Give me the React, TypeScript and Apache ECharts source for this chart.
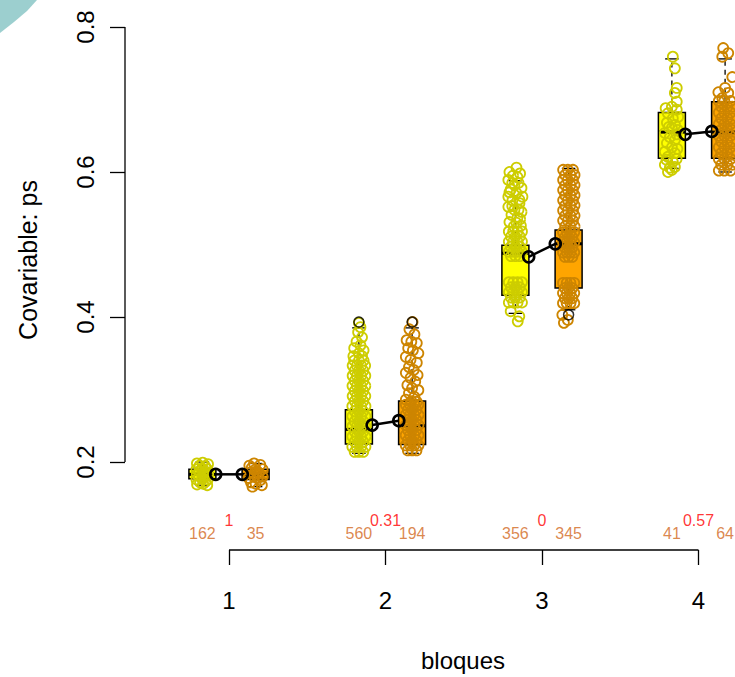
import React, { useEffect, useRef } from "react";
import * as echarts from "echarts";

// ---------- data ----------
const groups = [1, 2, 3, 4];
const pValues = ["1", "0.31", "0", "0.57"];
const countsYellow = [162, 560, 356, 41];
const countsOrange = [35, 194, 345, 64];
const meansYellow = [0.183, 0.251, 0.483, 0.652];
const meansOrange = [0.183, 0.257, 0.501, 0.656];
// [min, q1, median, q3, max]
const boxYellow = [
  [0.168, 0.177, 0.183, 0.19, 0.2],
  [0.212, 0.225, 0.245, 0.272, 0.385],
  [0.405, 0.43, 0.488, 0.499, 0.588],
  [0.605, 0.619, 0.655, 0.682, 0.756],
];
const boxOrange = [
  [0.166, 0.176, 0.183, 0.19, 0.198],
  [0.212, 0.224, 0.25, 0.284, 0.385],
  [0.41, 0.44, 0.501, 0.52, 0.605],
  [0.6, 0.619, 0.655, 0.697, 0.756],
];
const outliersYellow = [[], [0.393], [], []];
const outliersOrange = [[], [0.393], [0.403], []];
const yTicks = [0.2, 0.4, 0.6, 0.8];

// jittered observations: [offset from box centre, value]
const ptsY1 = [
  [-0.035, 0.198], [0.002, 0.199], [0.036, 0.197], [-0.038, 0.19], [-0.004, 0.191], [0.032, 0.19],
  [-0.036, 0.183], [0.004, 0.184], [0.037, 0.183], [-0.038, 0.176], [0, 0.177], [0.034, 0.176],
  [-0.034, 0.169], [0.005, 0.17], [0.031, 0.168], [-0.018, 0.195], [0.018, 0.187], [-0.02, 0.18],
  [0.02, 0.173], [-0.015, 0.172], [0.018, 0.194], [-0.018, 0.187], [0.018, 0.18],
];
const ptsO1 = [
  [-0.04, 0.195], [-0.01, 0.198], [0.03, 0.196], [0.045, 0.19], [0, 0.19], [-0.03, 0.186],
  [0.02, 0.185], [0.045, 0.18], [-0.045, 0.178], [-0.01, 0.18], [0.03, 0.175], [-0.03, 0.172],
  [0, 0.17], [0.04, 0.168], [-0.02, 0.166], [0.015, 0.178], [0.01, 0.187], [-0.025, 0.192],
];
const ptsY2 = [
  [0, 0.392], [0.01, 0.386], [-0.005, 0.379], [0.02, 0.372], [-0.015, 0.366], [0.01, 0.361],
  [-0.03, 0.357], [0.03, 0.354], [0, 0.35], [-0.035, 0.346], [0.02, 0.346],
  [-0.03, 0.34], [0, 0.34], [0.03, 0.34],
  [-0.04, 0.333], [-0.013, 0.333], [0.014, 0.333], [0.04, 0.333],
  [-0.027, 0.326], [0, 0.326], [0.028, 0.326],
  [-0.04, 0.319], [-0.013, 0.319], [0.014, 0.319], [0.041, 0.319],
  [-0.027, 0.312], [0, 0.312], [0.028, 0.312],
  [-0.041, 0.305], [-0.013, 0.305], [0.014, 0.305], [0.041, 0.305],
  [-0.027, 0.298], [0, 0.298], [0.028, 0.298],
  [-0.04, 0.291], [-0.013, 0.291], [0.014, 0.291], [0.041, 0.291],
  [-0.027, 0.284], [0, 0.284], [0.028, 0.284],
  [-0.042, 0.277], [-0.014, 0.277], [0.014, 0.277], [0.042, 0.277],
  [-0.027, 0.27], [0, 0.27], [0.028, 0.27],
  [-0.042, 0.263], [-0.014, 0.263], [0.014, 0.263], [0.042, 0.263],
  [-0.027, 0.256], [0, 0.256], [0.028, 0.256],
  [-0.042, 0.249], [-0.014, 0.249], [0.014, 0.249], [0.042, 0.249],
  [-0.027, 0.242], [0, 0.242], [0.028, 0.242],
  [-0.042, 0.235], [-0.014, 0.235], [0.014, 0.235], [0.042, 0.235],
  [-0.027, 0.228], [0, 0.228], [0.028, 0.228],
  [-0.042, 0.221], [-0.014, 0.221], [0.014, 0.221], [0.042, 0.221],
  [-0.027, 0.214], [0, 0.214], [0.028, 0.214],
];
const ptsO2 = [
  [0.003, 0.393], [-0.017, 0.383], [0.015, 0.376], [-0.035, 0.368], [-0.005, 0.366], [0.03, 0.364],
  [-0.025, 0.357], [0.005, 0.354], [0.04, 0.35], [-0.04, 0.345], [-0.01, 0.341], [0.03, 0.337],
  [-0.02, 0.331], [0.01, 0.327], [-0.04, 0.323], [0.035, 0.32], [-0.01, 0.316], [0.02, 0.311],
  [-0.03, 0.306], [0, 0.302], [0.04, 0.299], [-0.02, 0.295], [0.015, 0.29], [-0.04, 0.286],
  [0.03, 0.283], [-0.005, 0.284],
  [-0.04, 0.279], [-0.013, 0.279], [0.014, 0.279], [0.04, 0.279],
  [-0.027, 0.272], [0, 0.272], [0.028, 0.272],
  [-0.041, 0.265], [-0.013, 0.265], [0.014, 0.265], [0.041, 0.265],
  [-0.027, 0.258], [0, 0.258], [0.028, 0.258],
  [-0.041, 0.251], [-0.013, 0.251], [0.014, 0.251], [0.041, 0.251],
  [-0.027, 0.244], [0, 0.244], [0.028, 0.244],
  [-0.041, 0.237], [-0.013, 0.237], [0.014, 0.237], [0.041, 0.237],
  [-0.027, 0.23], [0, 0.23], [0.028, 0.23],
  [-0.041, 0.223], [-0.013, 0.223], [0.014, 0.223], [0.041, 0.223],
  [-0.027, 0.216], [0, 0.216], [0.028, 0.216],
];
const ptsY3 = [
  [0.007, 0.606], [-0.038, 0.6], [0.013, 0.593], [-0.045, 0.589], [-0.006, 0.582], [0.039, 0.578],
  [-0.038, 0.572], [0.007, 0.571], [-0.045, 0.566], [0.045, 0.566], [-0.019, 0.561], [0.026, 0.557],
  [-0.045, 0.552], [-0.006, 0.548], [0.039, 0.545], [-0.025, 0.541], [0.013, 0.537], [-0.038, 0.531],
  [0.007, 0.53], [0.03, 0.598], [-0.02, 0.585], [0.025, 0.562], [-0.03, 0.576], [0.03, 0.535],
  [-0.015, 0.595], [0.02, 0.585], [-0.02, 0.553], [0.02, 0.548], [-0.01, 0.525], [0.035, 0.526],
  [-0.042, 0.518], [-0.014, 0.518], [0.014, 0.518], [0.042, 0.518],
  [-0.028, 0.511], [0, 0.511], [0.028, 0.511],
  [-0.042, 0.504], [-0.014, 0.504], [0.014, 0.504], [0.042, 0.504],
  [-0.028, 0.497], [0, 0.497], [0.028, 0.497],
  [-0.042, 0.49], [-0.014, 0.49], [0.014, 0.49], [0.042, 0.49],
  [-0.028, 0.484], [0, 0.484], [0.028, 0.484],
  [-0.042, 0.448], [-0.014, 0.448], [0.014, 0.448], [0.042, 0.448],
  [-0.028, 0.441], [0, 0.441], [0.028, 0.441],
  [-0.042, 0.434], [-0.014, 0.434], [0.014, 0.434], [0.042, 0.434],
  [-0.028, 0.427], [0, 0.427], [0.028, 0.427],
  [-0.042, 0.42], [-0.014, 0.42], [0.014, 0.42], [0.042, 0.42],
  [-0.03, 0.408], [0.025, 0.401], [0.015, 0.394],
];
const ptsO3 = [
  [-0.035, 0.603], [-0.005, 0.603], [0.028, 0.603],
  [-0.022, 0.596], [0.012, 0.596], [0.038, 0.596],
  [-0.035, 0.589], [-0.005, 0.589], [0.028, 0.589],
  [-0.022, 0.582], [0.012, 0.582], [0.038, 0.582],
  [-0.035, 0.575], [-0.005, 0.575], [0.028, 0.575],
  [-0.022, 0.568], [0.012, 0.568], [0.038, 0.568],
  [-0.035, 0.561], [-0.005, 0.561], [0.028, 0.561],
  [-0.022, 0.554], [0.012, 0.554], [0.038, 0.554],
  [-0.035, 0.547], [-0.005, 0.547], [0.028, 0.547],
  [-0.022, 0.54], [0.012, 0.54], [0.038, 0.54],
  [-0.035, 0.533], [-0.005, 0.533], [0.028, 0.533],
  [-0.022, 0.525], [0.012, 0.525], [0.038, 0.525],
  [-0.036, 0.517], [-0.012, 0.517], [0.012, 0.517], [0.036, 0.517],
  [-0.024, 0.51], [0, 0.51], [0.024, 0.51],
  [-0.036, 0.503], [-0.012, 0.503], [0.012, 0.503], [0.036, 0.503],
  [-0.024, 0.496], [0, 0.496], [0.024, 0.496],
  [-0.036, 0.489], [-0.012, 0.489], [0.012, 0.489], [0.036, 0.489],
  [-0.024, 0.483], [0, 0.483], [0.024, 0.483],
  [-0.036, 0.447], [-0.012, 0.447], [0.012, 0.447], [0.036, 0.447],
  [-0.024, 0.44], [0, 0.44], [0.024, 0.44],
  [-0.036, 0.433], [-0.012, 0.433], [0.012, 0.433], [0.036, 0.433],
  [-0.024, 0.426], [0, 0.426], [0.024, 0.426],
  [-0.036, 0.419], [-0.012, 0.419], [0.012, 0.419], [0.036, 0.419],
  [-0.04, 0.403], [-0.005, 0.396], [-0.03, 0.392],
];
const ptsY4 = [
  [0.006, 0.759], [0.019, 0.743], [0.031, 0.716], [0.019, 0.709], [0.031, 0.697], [0, 0.69],
  [0.031, 0.686], [-0.026, 0.681], [0.006, 0.674], [-0.032, 0.668], [0, 0.661], [0.038, 0.658],
  [-0.045, 0.654], [-0.013, 0.648], [0.019, 0.644], [-0.032, 0.64], [0, 0.634], [-0.045, 0.628],
  [0.019, 0.626], [-0.026, 0.621], [0.006, 0.614], [-0.045, 0.61], [-0.013, 0.606], [0.019, 0.607],
  [0.04, 0.676], [-0.04, 0.688], [0.035, 0.632], [-0.02, 0.662], [0.03, 0.652], [-0.035, 0.617],
  [0.03, 0.618], [0, 0.603], [-0.025, 0.6], [0.02, 0.665],
];
const ptsO4 = [
  [-0.012, 0.771], [0.02, 0.764], [-0.018, 0.759], [0.046, 0.731], [0, 0.716], [-0.043, 0.71],
  [0.02, 0.709], [-0.018, 0.702],
  [-0.04, 0.698], [-0.005, 0.698], [0.035, 0.698],
  [-0.025, 0.69], [0.015, 0.69], [0.045, 0.69],
  [-0.04, 0.682], [-0.005, 0.682], [0.035, 0.682],
  [-0.025, 0.674], [0.015, 0.674], [0.045, 0.674],
  [-0.04, 0.666], [-0.005, 0.666], [0.035, 0.666],
  [-0.025, 0.658], [0.015, 0.658], [0.045, 0.658],
  [-0.04, 0.65], [-0.005, 0.65], [0.035, 0.65],
  [-0.025, 0.642], [0.015, 0.642], [0.045, 0.642],
  [-0.04, 0.634], [-0.005, 0.634], [0.035, 0.634],
  [-0.025, 0.626], [0.015, 0.626], [0.045, 0.626],
  [-0.04, 0.618], [-0.005, 0.618], [0.035, 0.618],
  [-0.025, 0.61], [0.015, 0.61], [0.045, 0.61],
  [-0.04, 0.602], [-0.005, 0.602], [0.035, 0.602],
];
const pointsYellow = [ptsY1, ptsY2, ptsY3, ptsY4];
const pointsOrange = [ptsO1, ptsO2, ptsO3, ptsO4];

// ---------- styling / layout constants ----------
const FONT = "'Liberation Sans', Arial, Helvetica, sans-serif";
const YELLOW_FILL = "#FFFF00";
const ORANGE_FILL = "#FFA500";
const YELLOW_PT = "#CDCD00";
const ORANGE_PT = "#CD8500";
const COUNT_COLOR = "#D2691E";
const X_MIN = 0.33546;
const X_MAX = 4.655;
const Y_MIN = 0.078621;
const Y_MAX = 0.878621;
const SHIFT = 0.17; // box offset from group
const MEAN_SHIFT = 0.085;
const BOX_W = 0.1725;
const P_LABEL_Y = 0.12;
const N_LABEL_Y = 0.1007;

export default function App() {
  const ref = useRef<HTMLDivElement>(null);
  useEffect(() => {
    if (!ref.current) return;
    const chart = echarts.init(ref.current, undefined, { renderer: "svg" });

    const boxData: number[][] = [];
    groups.forEach((g, i) => {
      boxData.push([g - SHIFT, ...boxYellow[i], 0]);
      boxData.push([g + SHIFT, ...boxOrange[i], 1]);
    });

    const yellowPts: number[][] = [];
    const orangePts: number[][] = [];
    groups.forEach((g, i) => {
      pointsYellow[i].forEach(([dx, v]) => yellowPts.push([g - SHIFT + dx, v]));
      pointsOrange[i].forEach(([dx, v]) => orangePts.push([g + SHIFT + dx, v]));
    });
    const outPts: number[][] = [];
    groups.forEach((g, i) => {
      outliersYellow[i].forEach((v) => outPts.push([g - SHIFT, v]));
      outliersOrange[i].forEach((v) => outPts.push([g + SHIFT, v]));
    });

    const meanSeries = groups.map((g, i) => ({
      type: "line",
      z: 6,
      data: [
        [g - MEAN_SHIFT, meansYellow[i]],
        [g + MEAN_SHIFT, meansOrange[i]],
      ],
      symbol: "circle",
      symbolSize: 11,
      lineStyle: { color: "#000", width: 2.5 },
      itemStyle: { color: "rgba(0,0,0,0)", borderColor: "#000", borderWidth: 2.6 },
      silent: true,
    }));

    const pLabelData = groups.map((g, i) => ({ value: [g, P_LABEL_Y], name: pValues[i] }));
    const nLabelData: any[] = [];
    groups.forEach((g, i) => {
      nLabelData.push({ value: [g - SHIFT, N_LABEL_Y], name: String(countsYellow[i]) });
      nLabelData.push({ value: [g + SHIFT, N_LABEL_Y], name: String(countsOrange[i]) });
    });

    const ptStyle = (c: string) => ({
      color: "rgba(0,0,0,0)",
      borderColor: c,
      borderWidth: 1.8,
      opacity: 1,
    });

    const option: any = {
      animation: false,
      backgroundColor: "#fff",
      textStyle: { fontFamily: FONT },
      grid: { left: 125, top: -30, width: 676, height: 580, containLabel: false, outerBoundsMode: "none" },
      xAxis: {
        type: "value",
        min: X_MIN,
        max: X_MAX,
        name: "bloques",
        nameLocation: "middle",
        nameGap: 98,
        nameTextStyle: { fontSize: 24, color: "#000", fontFamily: FONT },
        axisLine: { show: false },
        splitLine: { show: false },
        axisTick: {
          show: true,
          customValues: groups,
          length: 15,
          lineStyle: { color: "#000", width: 1.3 },
        },
        axisLabel: {
          customValues: groups,
          fontSize: 24,
          color: "#000",
          margin: 38,
          fontFamily: FONT,
        },
      },
      yAxis: {
        type: "value",
        min: Y_MIN,
        max: Y_MAX,
        name: "Covariable: ps",
        nameLocation: "middle",
        nameGap: 85,
        nameTextStyle: { fontSize: 25, color: "#000", fontFamily: FONT },
        axisLine: { show: false },
        splitLine: { show: false },
        axisTick: {
          show: true,
          customValues: yTicks,
          length: 15,
          lineStyle: { color: "#000", width: 1.3 },
        },
        axisLabel: {
          customValues: yTicks,
          rotate: 90,
          fontSize: 24,
          color: "#000",
          margin: 28,
          fontFamily: FONT,
          formatter: (v: number) => String(Math.round(v * 10) / 10),
        },
      },
      graphic: [
        {
          type: "polygon",
          shape: { points: [[0, 0], [37, 0], [27, 11], [14, 22], [0, 33]] },
          style: { fill: "#9CCFCF" },
          z: 100,
        },
      ],
      series: [
        {
          type: "custom",
          z: 2,
          silent: true,
          data: boxData,
          renderItem: (params: any, api: any) => {
            const c = api.value(0);
            const mn = api.value(1);
            const q1 = api.value(2);
            const md = api.value(3);
            const q3 = api.value(4);
            const mx = api.value(5);
            const ci = api.value(6);
            const hw = BOX_W / 2;
            const tl = api.coord([c - hw, q3]);
            const br = api.coord([c + hw, q1]);
            const pMin = api.coord([c, mn]);
            const pQ1 = api.coord([c, q1]);
            const pQ3 = api.coord([c, q3]);
            const pMax = api.coord([c, mx]);
            const capMaxL = api.coord([c - hw / 2, mx]);
            const capMaxR = api.coord([c + hw / 2, mx]);
            const capMinL = api.coord([c - hw / 2, mn]);
            const capMinR = api.coord([c + hw / 2, mn]);
            const mL = api.coord([c - hw, md]);
            const mR = api.coord([c + hw, md]);
            const thin = { stroke: "#000", lineWidth: 1.3 };
            const dashed = { stroke: "#000", lineWidth: 1.3, lineDash: [5, 4] };
            return {
              type: "group",
              children: [
                { type: "line", shape: { x1: pQ3[0], y1: pQ3[1], x2: pMax[0], y2: pMax[1] }, style: dashed },
                { type: "line", shape: { x1: pQ1[0], y1: pQ1[1], x2: pMin[0], y2: pMin[1] }, style: dashed },
                { type: "line", shape: { x1: capMaxL[0], y1: capMaxL[1], x2: capMaxR[0], y2: capMaxR[1] }, style: thin },
                { type: "line", shape: { x1: capMinL[0], y1: capMinL[1], x2: capMinR[0], y2: capMinR[1] }, style: thin },
                {
                  type: "rect",
                  shape: { x: tl[0], y: tl[1], width: br[0] - tl[0], height: br[1] - tl[1] },
                  style: { fill: ci === 0 ? YELLOW_FILL : ORANGE_FILL, stroke: "#000", lineWidth: 1.5 },
                },
                { type: "line", shape: { x1: mL[0], y1: mL[1], x2: mR[0], y2: mR[1] }, style: { stroke: "#000", lineWidth: 3 } },
              ],
            };
          },
        },
        {
          type: "scatter",
          z: 3,
          silent: true,
          data: yellowPts,
          symbol: "circle",
          symbolSize: 10,
          itemStyle: ptStyle(YELLOW_PT),
        },
        {
          type: "scatter",
          z: 3,
          silent: true,
          data: orangePts,
          symbol: "circle",
          symbolSize: 10,
          itemStyle: ptStyle(ORANGE_PT),
        },
        {
          type: "scatter",
          z: 4,
          silent: true,
          data: outPts,
          symbol: "circle",
          symbolSize: 10,
          itemStyle: { color: "rgba(0,0,0,0)", borderColor: "#000", borderWidth: 1.5 },
        },
        ...meanSeries,
        {
          type: "line",
          z: 5,
          silent: true,
          clip: false,
          symbol: "none",
          data: [[X_MIN, yTicks[0]], [X_MIN, yTicks[yTicks.length - 1]]],
          lineStyle: { color: "#000", width: 1.3 },
        },
        {
          type: "line",
          z: 5,
          silent: true,
          clip: false,
          symbol: "none",
          data: [[groups[0], Y_MIN], [groups[groups.length - 1], Y_MIN]],
          lineStyle: { color: "#000", width: 1.3 },
        },
        {
          type: "scatter",
          z: 7,
          silent: true,
          symbolSize: 0,
          data: pLabelData,
          label: {
            show: true,
            position: "inside",
            formatter: (p: any) => p.name,
            color: "#FF0000",
            fontSize: 16,
            fontFamily: FONT,
          },
        },
        {
          type: "scatter",
          z: 7,
          silent: true,
          symbolSize: 0,
          data: nLabelData,
          label: {
            show: true,
            position: "inside",
            formatter: (p: any) => p.name,
            color: COUNT_COLOR,
            fontSize: 16,
            fontFamily: FONT,
          },
        },
      ],
    };
    chart.setOption(option);
    return () => chart.dispose();
  }, []);

  return (
    <div
      ref={ref}
      style={{ position: "absolute", left: 0, top: 0, width: 735, height: 677, background: "#fff" }}
    />
  );
}
